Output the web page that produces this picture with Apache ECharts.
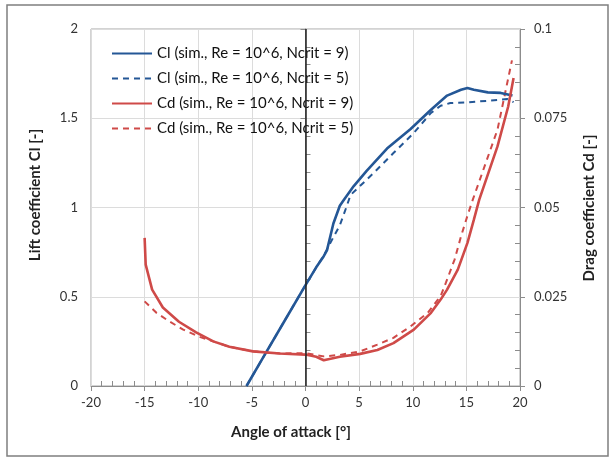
<!DOCTYPE html>
<html>
<head>
<meta charset="utf-8">
<script src="https://cdn.jsdelivr.net/npm/echarts@6/dist/echarts.min.js"></script>
<style>
  html, body { margin: 0; padding: 0; background: #fff; }
  #main { width: 610px; height: 457px; }
</style>
</head>
<body>
<div id="main"></div>
<script>
// Cl, Ncrit = 9
var clN9Alpha = [-5.5, -4, -2, 0, 1, 1.7, 2, 2.6, 3.2, 3.6, 4.5, 5.7, 7.6, 9.8, 11.7, 13.2, 14.5, 15.1, 15.7, 17, 18.2, 19.3];
var clN9 = [0, 0.155, 0.36, 0.565, 0.665, 0.727, 0.76, 0.91, 1.01, 1.045, 1.12, 1.205, 1.33, 1.44, 1.548, 1.627, 1.66, 1.67, 1.66, 1.645, 1.642, 1.628];
// Cl, Ncrit = 5
var clN5Alpha = [-5.5, -2, 0, 1, 1.7, 2.3, 3.2, 3.8, 4.2, 6.3, 8.2, 10.1, 11.7, 12.6, 13.5, 15.1, 17, 18.8, 19.4];
var clN5 = [0, 0.36, 0.565, 0.665, 0.73, 0.8, 0.9, 1.0, 1.07, 1.19, 1.305, 1.418, 1.53, 1.57, 1.585, 1.589, 1.598, 1.608, 1.59];
// Cd, Ncrit = 9
var cdN9Alpha = [-15, -14.9, -14.3, -13.3, -11.8, -10.2, -8.6, -7.1, -4.9, -2.4, 0, 1, 1.7, 3.2, 5.1, 6.7, 8.2, 10.1, 11.7, 12.6, 13.2, 14.2, 15.1, 15.7, 16.2, 17.9, 18.9, 19.4];
var cdN9 = [0.0415, 0.034, 0.027, 0.022, 0.018, 0.015, 0.0125, 0.011, 0.0097, 0.0091, 0.0088, 0.0082, 0.0072, 0.0082, 0.009, 0.0101, 0.012, 0.0158, 0.0205, 0.0242, 0.027, 0.0326, 0.0401, 0.0466, 0.0522, 0.0671, 0.0783, 0.0863];
// Cd, Ncrit = 5
var cdN5Alpha = [-15, -13.9, -12.7, -11.4, -9.9, -8.6, -7.1, -4.9, -2.4, 0, 1.7, 3.2, 5.1, 6.7, 8.2, 9.8, 11.4, 12.6, 13.1, 13.9, 14.5, 15.1, 15.6, 17.9, 19.25];
var cdN5 = [0.0237, 0.0205, 0.0181, 0.0158, 0.0138, 0.0125, 0.011, 0.0097, 0.0091, 0.0092, 0.0083, 0.0087, 0.0097, 0.0116, 0.0135, 0.0167, 0.0205, 0.0252, 0.029, 0.0354, 0.0419, 0.0477, 0.0522, 0.0718, 0.0912];

var seriesNames = [
  'Cl (sim., Re = 10^6, Ncrit = 9)',
  'Cl (sim., Re = 10^6, Ncrit = 5)',
  'Cd (sim., Re = 10^6, Ncrit = 9)',
  'Cd (sim., Re = 10^6, Ncrit = 5)'
];

function pairs(xs, ys) {
  return xs.map(function (x, i) { return [x, ys[i]]; });
}

var blue = '#245796';
var red = '#cf4a48';
var axisGray = '#8c8c8c';
var gridGray = '#dcdcdc';
var font = 'Lato, "Open Sans", sans-serif';

var myChart = echarts.init(document.getElementById('main'));
var option = {
  animation: false,
  backgroundColor: '#fff',
  textStyle: { fontFamily: font },
  grid: {
    left: 91, right: 90, top: 29, bottom: 71,
    show: true, borderColor: '#a6a6a6', borderWidth: 1
  },
  legend: {
    left: 106, top: 41,
    orient: 'vertical',
    itemWidth: 40, itemHeight: 14, itemGap: 10,
    itemStyle: { opacity: 0 },
    textStyle: { fontSize: 15, color: '#111', fontFamily: font },
    data: seriesNames
  },
  xAxis: {
    type: 'value', min: -20, max: 20, interval: 5,
    axisLine: { onZero: false, lineStyle: { color: axisGray } },
    axisTick: { length: 5, lineStyle: { color: axisGray } },
    minorTick: { show: true, splitNumber: 5, length: -5, lineStyle: { color: axisGray } },
    axisLabel: { fontSize: 13, color: '#333', margin: 10 },
    splitLine: { show: true, lineStyle: { color: gridGray } }
  },
  yAxis: [
    {
      type: 'value', min: 0, max: 2, interval: 0.5,
      axisLine: { show: true, lineStyle: { color: axisGray } },
      axisTick: { show: true, length: 5, lineStyle: { color: axisGray } },
      minorTick: { show: true, splitNumber: 5, length: -5, lineStyle: { color: axisGray } },
      axisLabel: { fontSize: 13, color: '#333', margin: 13 },
      splitLine: { show: true, lineStyle: { color: gridGray } }
    },
    {
      type: 'value', min: 0, max: 0.1, interval: 0.025, position: 'right',
      axisLine: { show: true, lineStyle: { color: axisGray } },
      axisTick: { show: true, length: 5, lineStyle: { color: axisGray } },
      minorTick: { show: true, splitNumber: 5, length: -5, lineStyle: { color: axisGray } },
      axisLabel: { fontSize: 13, color: '#333', margin: 14 },
      splitLine: { show: false }
    }
  ],
  series: [
    {
      name: seriesNames[0], type: 'line', yAxisIndex: 0, showSymbol: false, symbol: 'none',
      data: pairs(clN9Alpha, clN9), z: 4,
      lineStyle: { color: blue, width: 2.6 }, itemStyle: { color: blue },
      markLine: {
        silent: true, symbol: 'none', label: { show: false },
        lineStyle: { color: '#222', width: 1.5, type: 'solid' },
        data: [{ xAxis: 0 }]
      }
    },
    {
      name: seriesNames[1], type: 'line', yAxisIndex: 0, showSymbol: false, symbol: 'none',
      data: pairs(clN5Alpha, clN5), z: 3,
      lineStyle: { color: blue, width: 2, type: [6, 5] }, itemStyle: { color: blue }
    },
    {
      name: seriesNames[2], type: 'line', yAxisIndex: 1, showSymbol: false, symbol: 'none',
      data: pairs(cdN9Alpha, cdN9), z: 4,
      lineStyle: { color: red, width: 2.6 }, itemStyle: { color: red }
    },
    {
      name: seriesNames[3], type: 'line', yAxisIndex: 1, showSymbol: false, symbol: 'none',
      data: pairs(cdN5Alpha, cdN5), z: 3,
      lineStyle: { color: red, width: 2, type: [6, 5] }, itemStyle: { color: red }
    }
  ],
  graphic: [
    {
      type: 'rect', silent: true,
      shape: { x: 7, y: 5, width: 601, height: 451 },
      style: { fill: 'none', stroke: '#7f7f7f', lineWidth: 1.5 }
    },
    {
      type: 'text', x: 35, y: 195, rotation: Math.PI / 2,
      style: { text: 'Lift coefficient Cl [-]', font: 'bold 15px ' + font, fill: '#222', textAlign: 'center', textVerticalAlign: 'middle' }
    },
    {
      type: 'text', x: 589, y: 208, rotation: Math.PI / 2,
      style: { text: 'Drag coefficient Cd [-]', font: 'bold 15px ' + font, fill: '#222', textAlign: 'center', textVerticalAlign: 'middle' }
    },
    {
      type: 'text', x: 291, y: 432,
      style: { text: 'Angle of attack [°]', font: 'bold 15px ' + font, fill: '#222', textAlign: 'center', textVerticalAlign: 'middle' }
    }
  ]
};
myChart.setOption(option);
</script>
</body>
</html>
